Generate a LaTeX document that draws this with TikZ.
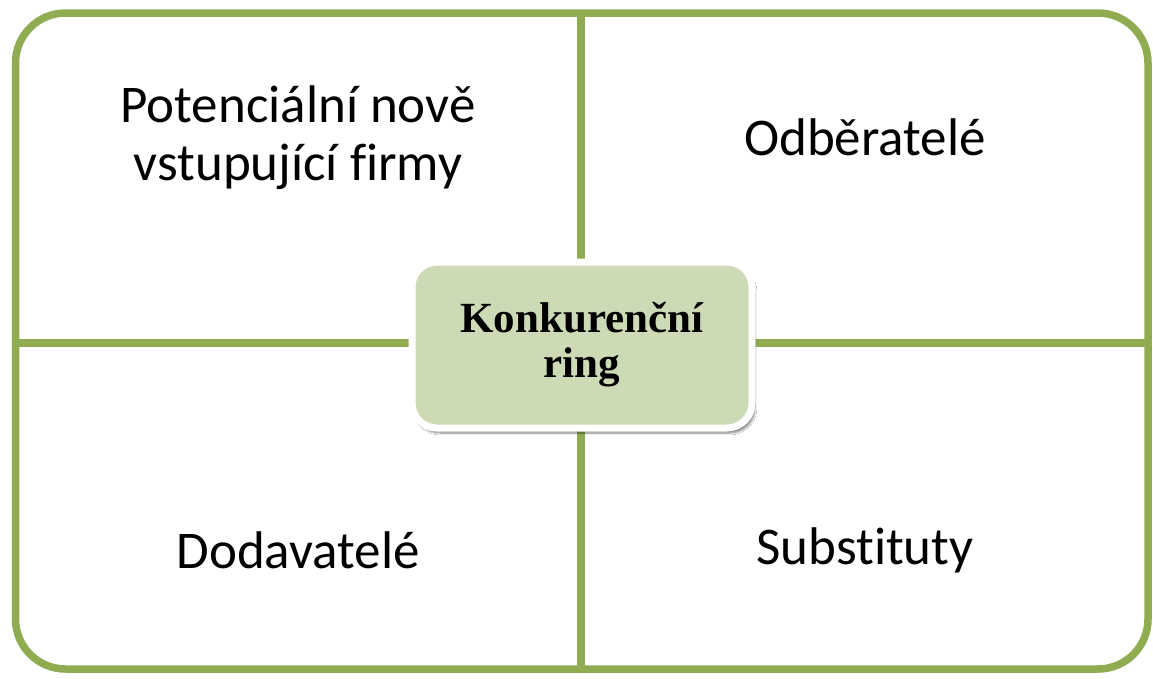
\documentclass[tikz,border=0pt]{standalone}
\usepackage{fontspec}
\setmainfont[Ligatures={NoCommon}]{Carlito}
\newfontfamily\serifbold{Liberation Serif}
\usetikzlibrary{shadows.blur}
\definecolor{ringgreen}{RGB}{143,172,81}
\definecolor{ringfill}{RGB}{205,218,182}
\tikzset{
  frame/.style={draw=ringgreen, line width=7.5pt, rounded corners=50pt, fill=white,
    blur shadow={shadow xshift=2pt, shadow yshift=-2pt, shadow blur steps=6, shadow opacity=30}},
  divider/.style={draw=ringgreen, line width=8pt},
  centerbox/.style={draw=white, line width=7pt, fill=ringfill, rounded corners=25pt,
    minimum width=340pt, minimum height=166pt, align=center, inner sep=0pt,
    font=\serifbold\bfseries\fontsize{43}{45}\selectfont,
    blur shadow={shadow xshift=3pt, shadow yshift=-5pt, shadow blur steps=8, shadow opacity=50}},
  label/.style={align=center, font=\fontsize{53}{58}\selectfont, inner sep=0pt}
}
\begin{document}
\begin{tikzpicture}[x=1pt,y=-1pt]
  \useasboundingbox (0,0) rectangle (1153,678);
  \path[frame] (15.5,13) rectangle (1148,669);
  \coordinate (top) at (581,13);
  \coordinate (bottom) at (581,669);
  \coordinate (left) at (15.5,343);
  \coordinate (right) at (1148,343);
  \draw[divider] (top) -- (bottom);
  \draw[divider] (left) -- (right);
  \node[centerbox] (ring) at (582,345) {Konkurenční\\ring};
  \node[label] (entrants) at (298,138) {Potenciální nově\\vstupující firmy};
  \node[label] (buyers) at (865,137) {Odběratelé};
  \node[label] (suppliers) at (298,550) {Dodavatelé};
  \node[label] (substitutes) at (865,550) {Substituty};
\end{tikzpicture}
\end{document}
